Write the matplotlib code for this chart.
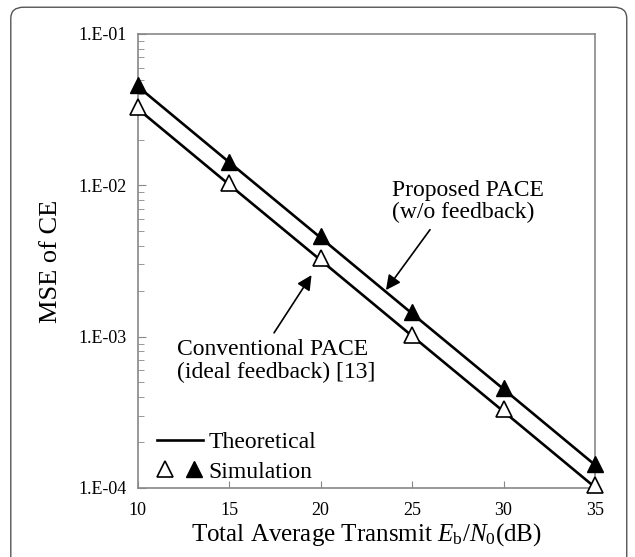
import numpy as np
import matplotlib
matplotlib.use("Agg")
import matplotlib.pyplot as plt
from matplotlib.ticker import FuncFormatter, LogLocator, NullFormatter
from matplotlib.patches import FancyBboxPatch
from matplotlib.legend_handler import HandlerTuple

plt.rcParams['font.family'] = ['Liberation Serif', 'DejaVu Serif']
plt.rcParams['mathtext.fontset'] = 'custom'
plt.rcParams['mathtext.rm'] = 'Liberation Serif'
plt.rcParams['mathtext.it'] = 'Liberation Serif:italic'

# Eb/N0 (dB)
snr = [10, 15, 20, 25, 30, 35]
# theoretical curves
theory_proposed = [4.5e-2, 1.42e-2, 4.5e-3, 1.42e-3, 4.5e-4, 1.42e-4]
theory_conv = [3.2e-2, 1.01e-2, 3.2e-3, 1.01e-3, 3.2e-4, 1.01e-4]
# simulation points
sim_proposed = [4.6e-2, 1.43e-2, 4.6e-3, 1.45e-3, 4.6e-4, 1.45e-4]
sim_conv = [3.3e-2, 1.03e-2, 3.3e-3, 1.03e-3, 3.3e-4, 1.05e-4]

fig = plt.figure(figsize=(6.35, 5.57), dpi=100)
ax = fig.add_axes([0.217, 0.124, 0.72, 0.815])

# outer rounded frame
frame = FancyBboxPatch((0.017, -0.05), 0.97, 1.037, transform=fig.transFigure,
                       boxstyle="round,pad=0,rounding_size=0.02",
                       facecolor='none', edgecolor='#555555', lw=1.0)
fig.patches.append(frame)

ln, = ax.plot(snr, theory_proposed, color='black', lw=1.9, clip_on=False)
ax.plot(snr, theory_conv, color='black', lw=1.9, clip_on=False)
filled, = ax.plot(snr, sim_proposed, ls='none', marker='^', ms=11,
                  mfc='black', mec='black', clip_on=False, zorder=5)
opened, = ax.plot(snr, sim_conv, ls='none', marker='^', ms=11,
                  mfc='white', mec='black', mew=1.2, clip_on=False, zorder=5)

ax.set_yscale('log')
ax.set_xlim(10, 35)
ax.set_ylim(1e-4, 1e-1)
ax.set_xticks(snr)
ax.yaxis.set_major_locator(LogLocator(base=10, numticks=10))
ax.yaxis.set_minor_locator(LogLocator(base=10, subs=np.arange(2, 10), numticks=10))
ax.yaxis.set_minor_formatter(NullFormatter())
ax.yaxis.set_major_formatter(FuncFormatter(
    lambda v, p: "1.E-%02d" % int(round(-np.log10(v)))))

for s in ax.spines.values():
    s.set_color('#888888')
    s.set_linewidth(1.2)
ax.tick_params(axis='both', which='both', direction='in', colors='#888888',
               labelcolor='black', labelsize=13)
ax.tick_params(axis='y', which='major', length=6, pad=8)
ax.tick_params(axis='y', which='minor', length=4)
ax.tick_params(axis='x', which='major', length=5, pad=10)

ax.set_ylabel("MSE of CE", fontsize=19, labelpad=12)
ax.set_xlabel("Total Average Transmit $E_\\mathrm{b}/N_0$(dB)", fontsize=18,
              labelpad=2)

ax.annotate("Proposed PACE\n(w/o feedback)", xy=(23.57, 2.03e-3),
            xytext=(23.9, 7.8e-3), fontsize=17, ha='left', va='center',
            linespacing=1.1,
            arrowprops=dict(arrowstyle='-|>', color='black', lw=1.2,
                            mutation_scale=22, shrinkA=3, shrinkB=0,
                            relpos=(0.28, 0.0)))
ax.annotate("Conventional PACE\n(ideal feedback) [13]", xy=(19.5, 2.55e-3),
            xytext=(12.13, 6.9e-4), fontsize=17, ha='left', va='center',
            linespacing=1.1,
            arrowprops=dict(arrowstyle='-|>', color='black', lw=1.2,
                            mutation_scale=22, shrinkA=3, shrinkB=0,
                            relpos=(0.47, 1.0)))

ax.legend([ln, (opened, filled)], ["Theoretical", "Simulation"],
          handler_map={tuple: HandlerTuple(ndivide=None, pad=0.5)},
          loc='lower left', bbox_to_anchor=(-0.005, -0.035), frameon=False,
          fontsize=17, handlelength=1.95, handletextpad=0.25, labelspacing=0.35)

fig.savefig("out.png", dpi=100)
